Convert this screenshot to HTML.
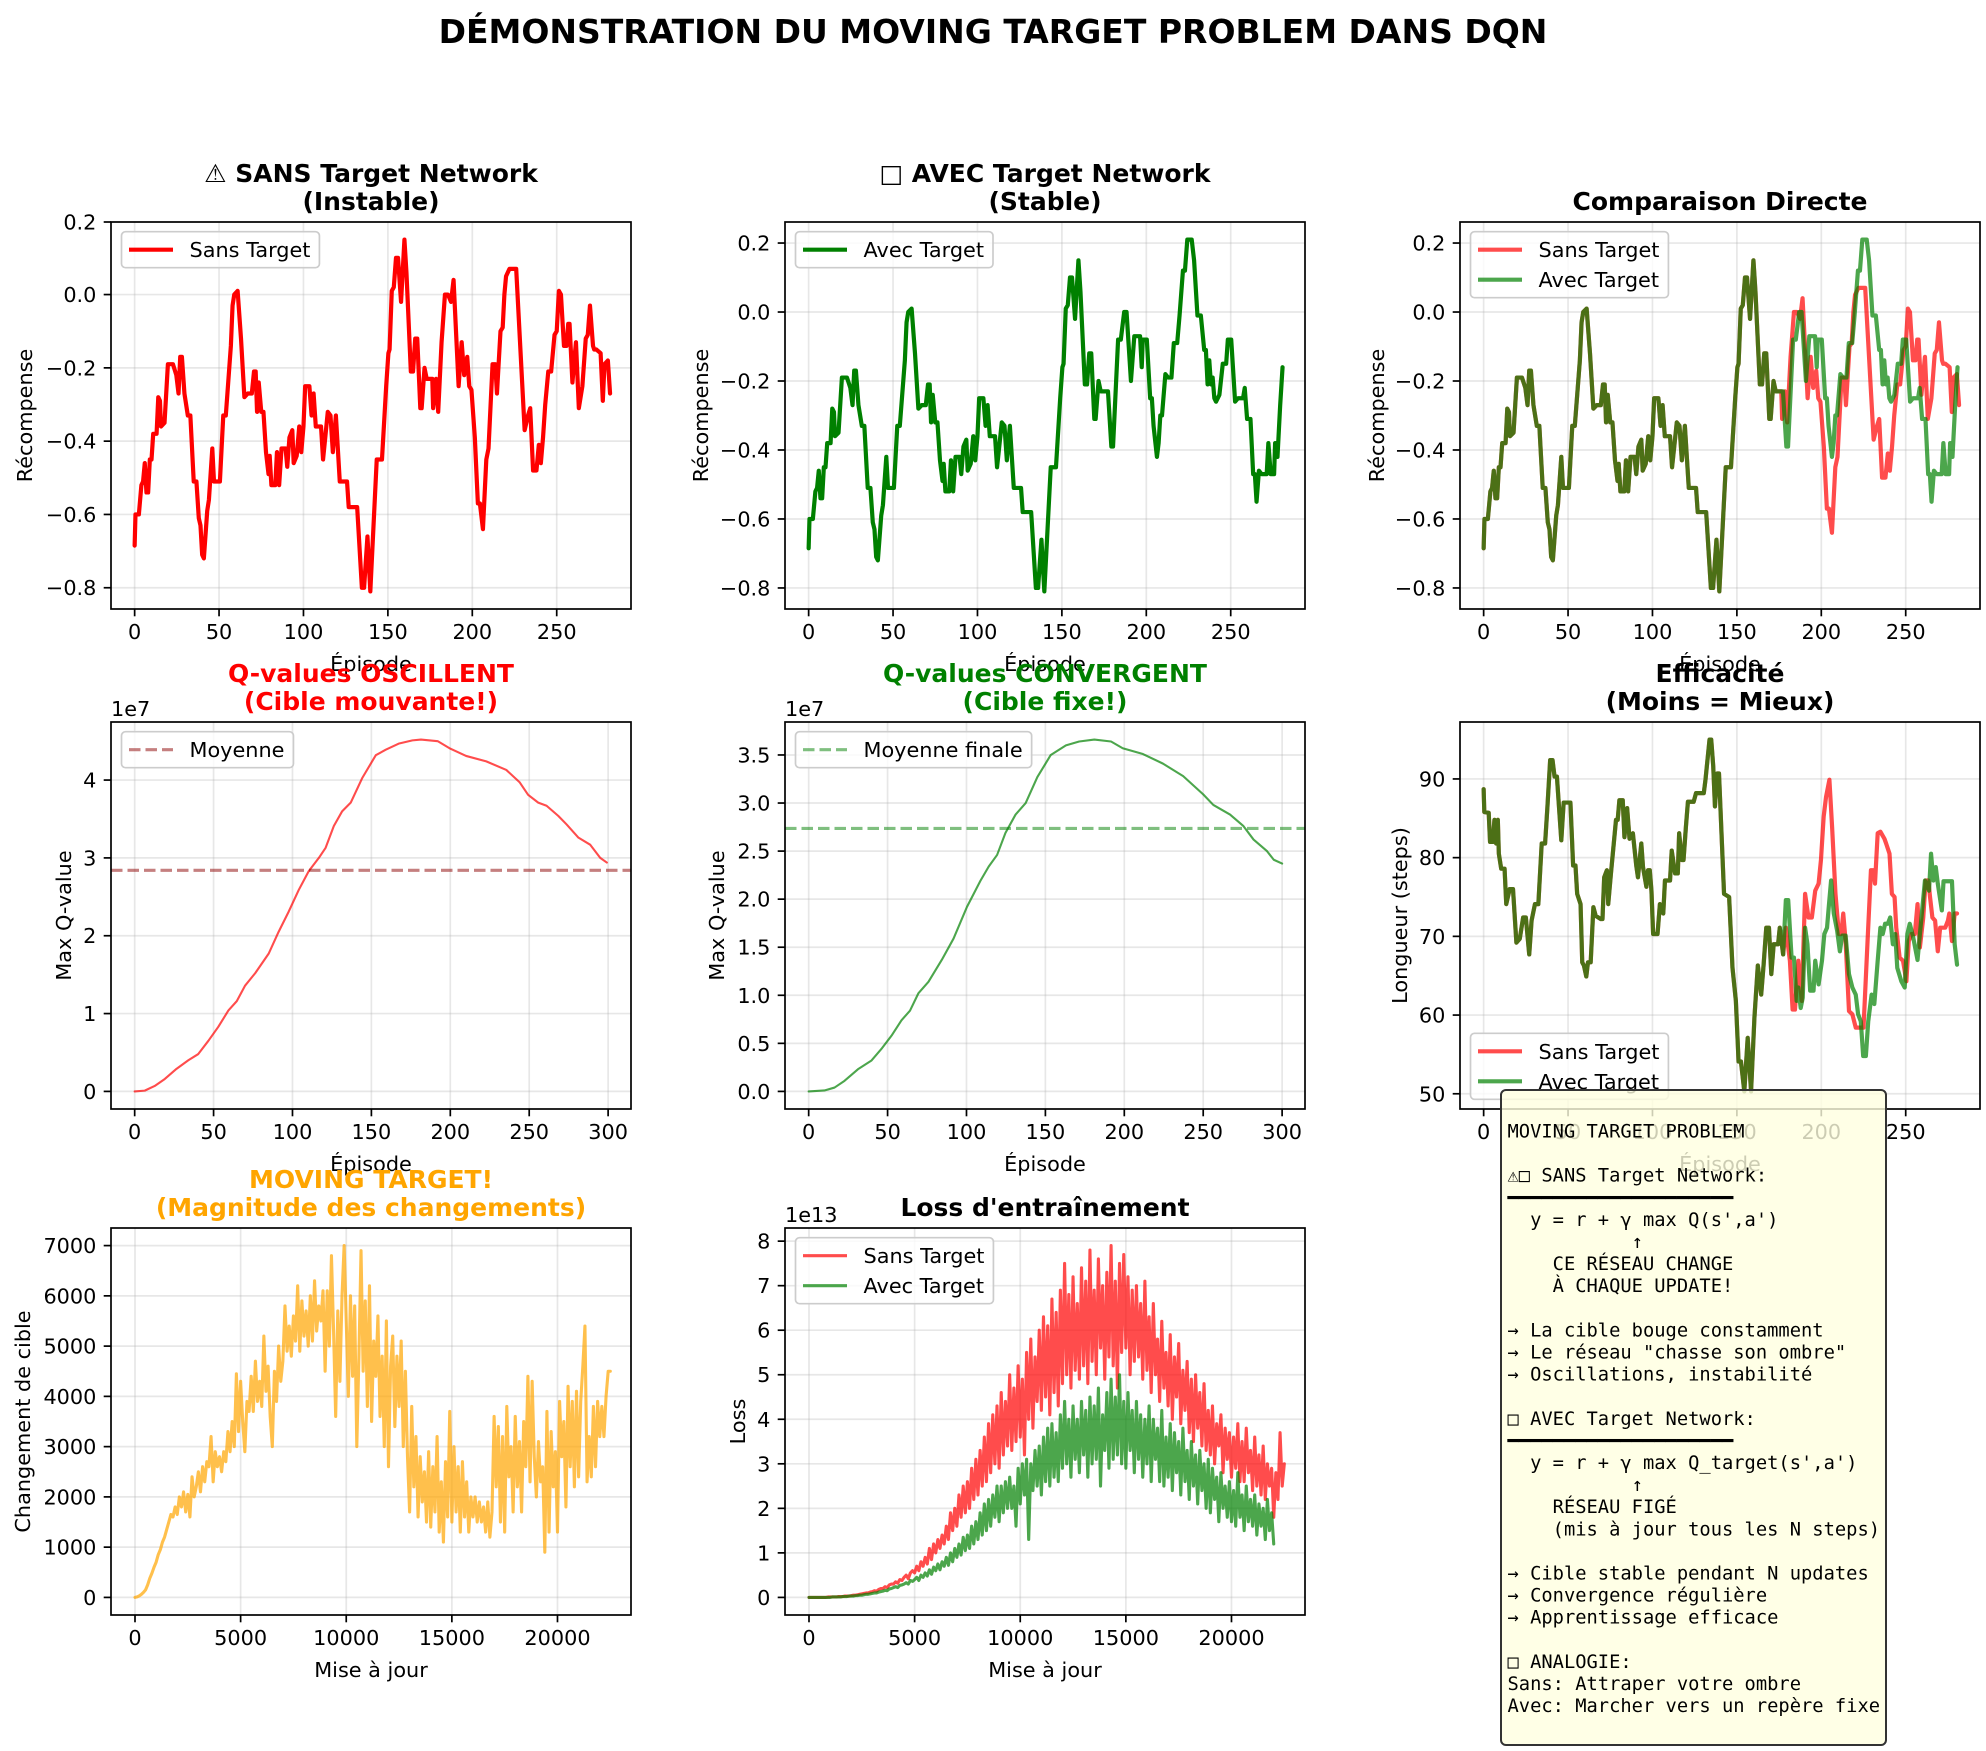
<!DOCTYPE html>
<html><head><meta charset="utf-8"><title>Moving Target Problem DQN</title>
<style>
html,body{margin:0;padding:0;background:#fff;}
svg{display:block;font-family:"DejaVu Sans","Liberation Sans",sans-serif;}
</style></head>
<body>
<svg id="fig" width="1986" height="1751" viewBox="0 0 1986 1751" xmlns="http://www.w3.org/2000/svg">
<rect width="1986" height="1751" fill="#ffffff"/>
<text x="993" y="43" text-anchor="middle" font-size="33" font-weight="bold">DÉMONSTRATION DU MOVING TARGET PROBLEM DANS DQN</text>
</svg>
<script>
// ---------- data ----------
const rewardEpSans = [0,0.5,2.5,4,5,6,7,8,9,10,11,13,14,15,15.6,17.7,19.7,22.7,24.7,26,27,28,29.5,31.5,33,35,36.6,38,39,40,41,43,44,46,47,50.5,52.5,54,57,58,59,61,63,65,67,69.4,70.7,71.7,72.5,73.5,75,76.3,77.8,79.3,80,81,83.3,84.3,85.6,87,89.4,90.4,91.7,93.4,94.2,96,97.5,98.7,100,101,103.5,104.8,106,107.3,110.4,111.6,112.9,114.4,116,117.4,119.2,121.5,125.8,126.8,131.8,134.6,135.9,137.9,139.6,143.4,146.5,149,150.3,151,152.3,153.5,154.8,156,157.8,159.8,161,163.6,164.9,166.2,167.4,169.2,170,171.7,173,176.3,176.8,178.5,179.8,181.8,183.8,185.6,187.4,188.9,191.9,193.7,195.2,197,198.2,199.5,201.5,203.3,204.5,206.3,208.3,209.6,212,213.6,214.6,216.7,218,219,220,222,226,231,233,234.3,236,238,239.4,240.6,241.9,243.2,245,246.7,248.7,250,251.3,252.5,254.3,255.8,256.8,257.6,259.3,260.6,261.4,263.1,265.2,267.2,268.4,269.7,271.5,272.2,273.5,276,277.3,278.3,280.3,281.6];
const rewardSans = [-0.685,-0.60,-0.60,-0.52,-0.51,-0.46,-0.54,-0.54,-0.45,-0.45,-0.38,-0.38,-0.28,-0.29,-0.36,-0.35,-0.19,-0.19,-0.22,-0.27,-0.17,-0.17,-0.27,-0.33,-0.33,-0.51,-0.51,-0.61,-0.63,-0.71,-0.72,-0.59,-0.56,-0.42,-0.51,-0.51,-0.33,-0.33,-0.14,-0.03,0.0,0.01,-0.12,-0.28,-0.27,-0.27,-0.21,-0.21,-0.32,-0.24,-0.32,-0.32,-0.43,-0.49,-0.44,-0.52,-0.52,-0.43,-0.52,-0.42,-0.42,-0.47,-0.39,-0.37,-0.46,-0.44,-0.36,-0.43,-0.36,-0.25,-0.25,-0.33,-0.27,-0.36,-0.36,-0.45,-0.39,-0.32,-0.33,-0.43,-0.33,-0.51,-0.51,-0.58,-0.58,-0.80,-0.80,-0.66,-0.81,-0.45,-0.45,-0.25,-0.16,-0.15,0.01,0.02,0.10,0.10,-0.02,0.15,0.06,-0.21,-0.21,-0.12,-0.12,-0.31,-0.31,-0.20,-0.23,-0.23,-0.31,-0.23,-0.32,-0.13,0.0,0.0,-0.02,0.04,-0.25,-0.13,-0.22,-0.17,-0.25,-0.26,-0.39,-0.57,-0.57,-0.64,-0.45,-0.42,-0.19,-0.19,-0.27,-0.10,-0.09,0.0,0.05,0.07,0.07,-0.37,-0.33,-0.31,-0.48,-0.48,-0.41,-0.46,-0.39,-0.30,-0.21,-0.21,-0.11,-0.10,0.01,0.0,-0.14,-0.14,-0.08,-0.08,-0.24,-0.17,-0.13,-0.31,-0.25,-0.12,-0.11,-0.03,-0.14,-0.15,-0.15,-0.16,-0.29,-0.19,-0.18,-0.27];
const rewardEpAvecTail = [177.3,179.3,180.3,183.3,184.9,186.9,188.3,190.9,192.9,196.3,197.3,197.9,200.3,202.3,203.3,204.3,206.3,207.3,208.3,209.3,211.3,212.9,214.9,216.3,218.3,219.7,221.7,222.9,224.3,226.9,228.3,230.3,232.3,234.3,235.3,236.3,237.3,238.3,239.3,240.3,241.3,243.3,245.3,247.3,248.3,250.3,252.6,254.3,257.3,258.3,259.7,261.7,263.3,264.3,265.3,266.7,268.3,271.3,272.3,273.7,275.7,276.3,277.7,279.3,280.7];
const rewardAvecTail = [-0.23,-0.39,-0.39,-0.08,-0.08,0.0,0.0,-0.2,-0.07,-0.07,-0.16,-0.08,-0.08,-0.25,-0.25,-0.33,-0.42,-0.38,-0.30,-0.30,-0.18,-0.19,-0.19,-0.09,-0.09,-0.01,0.12,0.12,0.21,0.21,0.15,-0.01,-0.01,-0.11,-0.11,-0.21,-0.14,-0.21,-0.19,-0.25,-0.26,-0.24,-0.15,-0.15,-0.08,-0.08,-0.26,-0.25,-0.25,-0.22,-0.31,-0.31,-0.47,-0.47,-0.55,-0.46,-0.47,-0.47,-0.38,-0.47,-0.47,-0.38,-0.42,-0.27,-0.16];
const rewardEpAvec = rewardEpSans.slice(0,110).concat(rewardEpAvecTail);
const rewardAvec = rewardSans.slice(0,110).concat(rewardAvecTail);

const qEpSans = [0,6.4,12.7,19.1,26.5,34,40.3,46.7,53,59.4,64.7,70,76.4,84.9,91.2,97.6,104,110.3,116.7,121,126.2,131.5,136.9,144.3,152.8,159.1,167.6,176,181.4,192,199.4,210,222.8,235.5,244,249.3,255.7,261,268.4,273.7,281.2,288.6,295,299.2];
const qSans = [0,0.01,0.07,0.16,0.29,0.40,0.48,0.65,0.83,1.04,1.16,1.36,1.52,1.77,2.05,2.31,2.59,2.83,3.0,3.13,3.41,3.6,3.71,4.03,4.32,4.39,4.47,4.51,4.52,4.5,4.41,4.31,4.24,4.13,3.97,3.81,3.71,3.67,3.54,3.43,3.26,3.17,3.0,2.94];
const qMeanSans = 2.84;
const qEpAvec = [0,10,16.4,22.7,31.2,39.7,46,52.5,58.8,64.2,69.5,75.9,84.4,91.8,100.3,108.8,114.1,119.4,124.7,131.1,137.5,144.9,153.4,163,171.4,181,191.6,199,211.8,224.5,237.3,250,256.4,267,275.5,281.9,290.4,294.7,300];
const qAvec = [0,0.01,0.04,0.11,0.23,0.32,0.44,0.58,0.74,0.84,1.02,1.14,1.37,1.59,1.92,2.19,2.34,2.46,2.69,2.88,3.0,3.27,3.5,3.6,3.64,3.66,3.64,3.57,3.51,3.41,3.28,3.09,2.98,2.88,2.76,2.62,2.5,2.41,2.37];
const qMeanAvec = 2.736;

const effEpCommon = [0,0.4,3,3.8,5.4,6.4,7.4,8.4,9,10.4,12.4,13.4,15.4,17.4,19.4,21.4,23.4,25,27,28.4,30.4,32.4,34.4,36.4,37.8,39.4,40.8,42,43.4,46,47.4,51.4,53,54.4,55.4,57.4,58.4,59.4,60.8,61.8,63.4,65,66.4,69.4,70.4,71.4,73,73.8,75.4,78.4,79.4,80.4,82.4,83.4,85,86.4,88.4,90.4,91.4,93.4,94.4,96.4,97.4,98.4,99.4,100.4,103,104.4,106.4,107.4,110.4,111.4,113.4,115,115.8,117.4,118.4,119.8,121,124.4,125.8,130.4,131.4,133.8,134.8,136,137,138.4,139.4,142.4,145.4,147.4,149.4,151,152.4,154.4,156.4,158.4,160.4,162.4,164.4,165.8,167.4,169,170.4,171.8,174.4,175.4,177.4];
const effCommon = [88.7,85.8,85.7,82,82,84.8,81.8,84.8,80.5,78.6,78.6,74.1,76,76,69.2,69.7,72.4,72.4,67.7,72,74.1,74.1,81.8,81.8,86.5,92.4,92.4,90.3,90.3,82.2,87,87,79,79,75.4,74.1,66.7,66.3,64.9,66.7,66.7,73.7,72.6,72.2,72.2,77.5,78.4,74.1,78,84.8,84.8,87.3,87.3,82.6,86.3,82.4,83.1,79,77.5,81.8,78.8,76.3,78.4,78.4,75.8,70.3,70.3,74.1,72.9,77.1,77.1,80.9,78,78,83.1,79.7,79.7,83.9,87.1,87.1,88.2,88.2,89.9,95,95,91.6,86.5,90.7,90.7,75.4,75,66,61.8,54.1,54.1,50.3,57.1,50.3,59.7,66.3,62.6,66.3,71.1,71.1,65.2,69,69,71.1,67.7];
const effEpSansTail = [179,181.4,183,184.4,186.4,188.4,190.4,192.4,194.4,196.4,198.4,199.8,201.4,202.8,204.8,206.4,208.4,210.4,211.8,213,214.4,216.4,218.4,220.4,222.4,225,227.4,229.4,230.8,231.8,233.4,235,237.4,238.4,240.4,241.8,243.4,244.4,246.4,248.4,250.4,251.8,253.4,255.4,257,258.4,260.4,261.8,263.4,264.4,265.8,267.4,269,270.4,273.4,275,275.8,277.4,279,280.4];
const effSansTail = [71.1,66.9,60.7,60.7,66.9,61.8,75.4,72.4,72.4,75.8,76.7,79.7,85.2,87.7,89.9,83.9,75.4,70.3,70.3,72.9,69.4,60.5,60.1,58.4,58.4,58.4,69.4,78.4,78.4,76.7,83.1,83.3,82.4,81.8,80.5,75.4,75,71.1,67.3,66.9,64.3,69.4,70.3,70.3,74.1,68.6,72.4,77.1,77.1,75,72.4,72,68.1,71.1,71.1,72,72.9,69.4,72.9,72.9];
const effEpAvecTail = [179,180.4,182.4,183.8,185.4,186.4,187.8,189,190.4,191.8,193.4,195.4,196.4,198.4,200.4,201.8,203.4,204.4,205.8,207.4,209.4,211,212.4,214.4,216.4,218.4,220.4,221.8,223.4,224.8,226.4,227.8,229.8,231.4,233.4,235,236.4,237.8,239.4,240.8,242.4,243.8,245,247.4,249.4,251,252.4,254.4,257,258.4,261.4,263.8,265,266.4,267.8,269,271.4,272.4,275.4,277.4,279,280.4];
const effAvecTail = [74.6,74.6,67.3,67.3,61.8,63.5,60.9,62.2,71.1,69,63.1,63.1,66.9,63.9,66.9,70.3,71.1,73.7,77.1,72.9,70.7,68.1,70.1,70.1,65.2,63.5,62.6,60.1,59.2,54.8,54.8,59.2,62.6,61.4,66.9,71.1,70.3,71.6,71.6,72.4,69,70.3,66,64.3,63.5,70.3,71.6,69.9,67,70.3,77.1,75.8,80.5,77.1,78.8,76.7,73.3,77,77,77,69,66.4];
const effEpSans = effEpCommon.concat(effEpSansTail);
const effSans = effCommon.concat(effSansTail);
const effEpAvec = effEpCommon.concat(effEpAvecTail);
const effAvec = effCommon.concat(effAvecTail);

const updateStep = 100;
const targetChange = [0,10,30,60,100, 150,250,380,480,600, 700,850,950,1100,1200, 1350,1500,1650,1600,1800, 1650,2000,1800,2100,1700, 2050,1600,2400,2000,2200, 2500,2100,2600,2300,2700, 2600,3200,2300,2900,2600, 2800,2500,2900,2700,3300, 2900,3500,3000,4450,3300, 4300,3500,2900,3900,3700, 4400,3700,4700,3900,4300, 3800,5200,4100,4600,3600, 3000,4500,3900,5000,4300, 4700,5800,4900,5400,4800, 5600,5100,6200,4900,5900, 5200,5700,5000,6000,5100, 6300,5300,5800,5500,6100, 4500,6100,5000,6800,5300, 3600,5700,4300,6000,7000, 5500,4000,6000,4400,5800, 3000,4800,6900,4500,5900, 3800,6200,3500,5100,4400, 5600,3600,4800,3000,5500, 2600,4600,5200,3400,4800, 3800,5100,3000,4500,2800, 1700,3800,2200,3200,1600, 2800,1900,2500,1500,2900, 1400,2600,1700,3200,1300, 2300,1100,2700,1600,3700, 1500,3000,1700,2600,1300, 2700,1600,2300,1300,2000, 1600,2000,1500,1900,1500, 1800,1300,1900,1200,1700, 3600,2200,3400,1500,3200, 1300,3800,2400,3000,1700, 3600,2200,3100,1700,3500, 2600,4400,2300,4300,2800, 2000,3100,2300,2600,900, 3700,1300,3300,2200,2900, 1300,3900,2800,3500,1800, 4200,2600,3900,2200,4100, 2400,3900,4600,5400,2300, 3200,2400,3800,2600,3900, 3200,3800,3200,4000,4500, 4500];
const lossSans = [0,0,0,0,0, 0,0,0,0,0.01, .01,.01,.01,.01,.02, .02,.02,.03,.03,.03, .04,.05,.05,.06,.07, .08,.09,.1,.1,.12, .13,.15,.14,.18,.2, .2,.24,.22,.28,.3, .3,.35,.32,.4,.38, .45,.5,.42,.55,.6, .55,.7,.6,.8,.7, .9,.75,1.1,.85,1.2, 1.0,1.3,1.1,1.4,1.2, 1.6,1.3,1.9,1.5,2.0, 1.6,2.3,1.8,2.5,1.9, 2.6,2.0,2.9,2.2,3.1, 2.3,3.3,2.5,3.6,2.6, 3.9,2.8,4.1,3.0,4.3, 2.9,4.6,3.2,4.4,3.4, 5.0,3.3,4.7,3.5,5.2, 3.6,4.9,3.2,5.5,4.0, 5.8,3.8,5.4,4.4,6.0, 4.2,6.3,4.5,6.1,4.1, 6.7,4.6,6.4,4.3,6.9, 4.8,7.5,5.0,6.8,4.7, 7.2,5.1,6.6,4.9,7.4, 5.2,7.1,4.8,7.8,5.3, 6.9,5.0,7.6,5.6,7.0, 4.9,7.3,5.4,7.9,5.2, 7.1,4.7,7.5,5.5,7.7, 5.6,7.2,5.0,6.9,5.3, 7.0,5.4,6.6,4.9,7.1, 5.1,6.3,4.6,6.6,5.0, 5.8,4.4,6.2,4.7,5.5, 4.3,5.9,4.0,5.4,4.5, 5.7,3.9,5.1,4.2,5.3, 3.7,4.9,3.5,5.0,3.8, 4.6,3.4,4.8,3.3,4.2, 3.2,4.3,3.0,3.9,3.4, 4.1,2.8,3.8,3.1,3.7, 2.7,3.6,2.9,3.9,2.6, 3.5,2.6,3.8,2.8,3.3, 2.4,3.6,2.5,3.2,2.3, 3.4,2.2,3.0,2.5,2.9, 1.8,2.8,2.2,3.7,2.5, 3.0];
const lossAvec = [0,0,0,0,0, 0,0,0,0,0, 0,.01,.01,.01,.01, .01,.02,.02,.02,.03, .03,.03,.04,.04,.05, .05,.06,.07,.07,.08, .09,.1,.1,.12,.13, .14,.16,.15,.19,.2, .22,.24,.22,.27,.28, .3,.33,.3,.38,.36, .4,.45,.38,.5,.45, .55,.48,.62,.52,.68, .6,.75,.62,.8,.7, .9,.72,1.0,.8,1.1, .9,1.2,.95,1.35,1.05, 1.4,1.1,1.6,1.2,1.7, 1.3,1.9,1.4,2.1,1.5, 2.2,1.6,2.3,1.8,2.5, 1.7,2.5,1.9,2.6,2.0, 2.7,2.0,2.5,1.6,2.9, 2.1,3.0,2.3,3.1,1.3, 3.0,2.4,3.3,2.5,3.4, 2.3,3.6,2.6,3.8,2.5, 3.9,2.7,3.7,2.6,4.1, 2.9,4.4,3.0,4.0,2.7, 4.3,3.1,4.0,2.8,4.4, 3.2,4.2,2.7,4.5,3.0, 4.3,3.1,4.7,2.5,4.1, 3.3,4.6,2.9,4.9,3.1, 4.5,3.2,5.0,3.0,4.4, 2.9,4.6,3.3,4.2,2.8, 4.4,3.1,4.1,2.7,4.0, 3.0,4.3,2.6,4.0,3.1, 3.8,2.6,4.2,2.5,3.6, 2.7,3.9,2.4,3.7,2.8, 3.5,2.3,3.8,2.6,3.3, 2.2,3.5,2.5,3.2,2.1, 3.3,2.4,3.0,2.0,3.1, 1.9,2.9,2.2,2.7,1.7, 2.8,2.0,2.5,1.8,2.6, 1.7,2.4,1.6,2.8,1.8, 2.3,1.5,2.5,1.7,2.2, 1.6,2.3,1.4,2.1,1.6, 2.0,1.3,2.2,1.5,1.9, 1.2];

const rewardTicks = [-0.8,-0.6,-0.4,-0.2,0.0,0.2];
const rewardTickLabels = ["\u22120.8","\u22120.6","\u22120.4","\u22120.2","0.0","0.2"];
const episodeTicks = [0,50,100,150,200,250];
const episodeTicks300 = [0,50,100,150,200,250,300];
const qTicksSans = [0,1,2,3,4];
const qTicksSansLabels = ["0","1","2","3","4"];
const qTicksAvec = [0,0.5,1,1.5,2,2.5,3,3.5];
const qTicksAvecLabels = ["0.0","0.5","1.0","1.5","2.0","2.5","3.0","3.5"];
const effTicks = [50,60,70,80,90];
const changeTicks = [0,1000,2000,3000,4000,5000,6000,7000];
const lossTicks = [0,1,2,3,4,5,6,7,8];
const updateTicks = [0,5000,10000,15000,20000];

// ---------- helpers ----------
const NS = 'http://www.w3.org/2000/svg';
const svg = document.getElementById('fig');
function mk(tag, parent){ const e = document.createElementNS(NS, tag); (parent||svg).appendChild(e); return e; }
function autolim(arrs){ let mn=Infinity,mx=-Infinity; arrs.forEach(a=>a.forEach(v=>{if(v<mn)mn=v;if(v>mx)mx=v;})); const p=(mx-mn)*0.05; return [mn-p,mx+p]; }
function txt(parent, x, y, s, size, anchor, extra){
  const t = mk('text', parent);
  t.setAttribute('x', x); t.setAttribute('y', y);
  t.setAttribute('font-size', size); t.setAttribute('text-anchor', anchor||'start');
  if(extra){ for(const k in extra) t.setAttribute(k, extra[k]); }
  t.textContent = s; return t;
}
let clipId = 0;
function makeAxes(name, x0, y0, w, h, xlim, ylim, xt, xtl, yt, ytl){
  const g = mk('g');
  
  
  const sx = v => x0 + (v - xlim[0]) / (xlim[1] - xlim[0]) * w;
  const sy = v => y0 + h - (v - ylim[0]) / (ylim[1] - ylim[0]) * h;
  const tol = (ylim[1]-ylim[0])*0.01;
  const grid = mk('g', g);
  
  
  const ticks = mk('g', g);
  
  
  xt.forEach((v,i)=>{
    const X = sx(v);
    const gl = mk('line', grid);
    gl.setAttribute('x1',X); gl.setAttribute('x2',X); gl.setAttribute('y1',y0); gl.setAttribute('y2',y0+h);
    gl.setAttribute('stroke','#b0b0b0'); gl.setAttribute('stroke-opacity','0.3'); gl.setAttribute('stroke-width','1.7');
    const tk = mk('line', ticks);
    tk.setAttribute('x1',X); tk.setAttribute('x2',X); tk.setAttribute('y1',y0+h); tk.setAttribute('y2',y0+h+7.3);
    tk.setAttribute('stroke','#000'); tk.setAttribute('stroke-width','1.7');
    const lb = txt(ticks, X, y0+h+30, xtl[i], 20.8, 'middle');
    
    
  });
  yt.forEach((v,i)=>{
    if(v < ylim[0]-tol || v > ylim[1]+tol) return;
    const Y = Math.max(y0, Math.min(y0+h, sy(v)));
    const gl = mk('line', grid);
    gl.setAttribute('x1',x0); gl.setAttribute('x2',x0+w); gl.setAttribute('y1',Y); gl.setAttribute('y2',Y);
    gl.setAttribute('stroke','#b0b0b0'); gl.setAttribute('stroke-opacity','0.3'); gl.setAttribute('stroke-width','1.7');
    const tk = mk('line', ticks);
    tk.setAttribute('x1',x0-7.3); tk.setAttribute('x2',x0); tk.setAttribute('y1',Y); tk.setAttribute('y2',Y);
    tk.setAttribute('stroke','#000'); tk.setAttribute('stroke-width','1.7');
    const lb = txt(ticks, x0-14.6, Y+7.5, ytl[i], 20.8, 'end');
    
    
  });
  clipId++;
  const cp = mk('clipPath', g); cp.setAttribute('id','c'+clipId);
  const cr = mk('rect', cp); cr.setAttribute('x',x0); cr.setAttribute('y',y0); cr.setAttribute('width',w); cr.setAttribute('height',h);
  const plot = mk('g', g); plot.setAttribute('clip-path','url(#c'+clipId+')');
  
  
  const ax = {g, plot, sx, sy, x0, y0, w, h};
  ax.frame = function(){
    const f = mk('rect', g);
    f.setAttribute('x',x0); f.setAttribute('y',y0); f.setAttribute('width',w); f.setAttribute('height',h);
    f.setAttribute('fill','none'); f.setAttribute('stroke','#000'); f.setAttribute('stroke-width','1.7');
    
    
  };
  return ax;
}
function line(ax, xs, ys, color, lw, opacity, name, dash){
  const n = Math.min(xs.length, ys.length);
  let d = '';
  for(let i=0;i<n;i++){ d += (i?'L':'M') + ax.sx(xs[i]).toFixed(2) + ',' + ax.sy(ys[i]).toFixed(2); }
  const p = mk('path', ax.plot);
  p.setAttribute('d', d); p.setAttribute('fill','none'); p.setAttribute('stroke',color);
  p.setAttribute('stroke-width',lw); p.setAttribute('stroke-opacity',opacity);
  p.setAttribute('stroke-linejoin','round'); p.setAttribute('stroke-linecap','round');
  if(dash) p.setAttribute('stroke-dasharray', dash);
  
  
  return p;
}
function hline(ax, v, color, lw, opacity, name){
  const p = mk('line', ax.plot);
  const Y = ax.sy(v);
  p.setAttribute('x1', ax.x0); p.setAttribute('x2', ax.x0+ax.w); p.setAttribute('y1', Y); p.setAttribute('y2', Y);
  p.setAttribute('stroke', color); p.setAttribute('stroke-width', lw); p.setAttribute('stroke-opacity', opacity);
  p.setAttribute('stroke-dasharray', (3.7*lw).toFixed(1)+','+(1.6*lw).toFixed(1));
  
  
}
function legend(ax, entries, loc){
  const g = mk('g', ax.g);
  
  
  const H = 36 + 30*(entries.length-1);
  const top = loc === 'll' ? ax.y0 + ax.h - 9.7 - H : ax.y0 + 9.7;
  const box = mk('rect', g);
  let maxW = 0;
  entries.forEach((e,i)=>{
    const cy = top + 18 + 30*i;
    const l = mk('line', g);
    l.setAttribute('x1', ax.x0+18); l.setAttribute('x2', ax.x0+62); l.setAttribute('y1', cy); l.setAttribute('y2', cy);
    l.setAttribute('stroke', e.color); l.setAttribute('stroke-width', e.lw); l.setAttribute('stroke-opacity', e.op);
    if(e.dash) l.setAttribute('stroke-dasharray', e.dash);
    
    
    const t = txt(g, ax.x0+78.5, cy+7.5, e.label, 20.8, 'start');
    
    
    let tw = 0; try { tw = t.getComputedTextLength(); } catch(err) { tw = e.label.length*12; }
    if(!tw) tw = e.label.length*12;
    maxW = Math.max(maxW, tw);
  });
  box.setAttribute('x', ax.x0+10.5); box.setAttribute('y', top);
  box.setAttribute('width', 68 + maxW + 9); box.setAttribute('height', H);
  box.setAttribute('rx', 4); box.setAttribute('fill', '#ffffff'); box.setAttribute('fill-opacity', '0.8');
  box.setAttribute('stroke', '#cccccc'); box.setAttribute('stroke-width', '1.7');
}
function title(ax, lines, color){
  const cx = ax.x0 + ax.w/2;
  lines.forEach((s,i)=>{
    const y = ax.y0 - 12 - 28*(lines.length-1-i);
    const t = txt(ax.g, cx, y, s, 25, 'middle', {'font-weight':'bold', 'fill': color||'#000'});
    
    
  });
}
function xlabel(ax, s){
  const t = txt(ax.g, ax.x0+ax.w/2, ax.y0+ax.h+62, s, 20.8, 'middle');
  
  
}
function ylabel(ax, s, off){
  const x = ax.x0 - off, y = ax.y0 + ax.h/2;
  const t = txt(ax.g, x, y, s, 20.8, 'middle', {'transform':'rotate(-90 '+x+' '+y+')', 'dominant-baseline':'central'});
  
  
}
function offsetText(ax, s){
  const t = txt(ax.g, ax.x0, ax.y0 - 6, s, 20.8, 'start');
  
  
}
const epLabels = a => a.map(String);

// ---------- layout ----------
const COLX = [111, 785, 1460], W = 520, ROWY = [222, 722, 1228], H = 387;
const epLim = [-14, 294], epLim300 = [-15, 314.5];

// Row 1
const a1 = makeAxes('chart-sans-target', COLX[0], ROWY[0], W, H, epLim, autolim([rewardSans]), episodeTicks, epLabels(episodeTicks), rewardTicks, rewardTickLabels);
line(a1, rewardEpSans, rewardSans, '#ff0000', 4.2, 1, 'line-sans-target');
a1.frame(); legend(a1, [{label:'Sans Target', color:'#ff0000', lw:4.2, op:1}], 'ul');
title(a1, ['\u26A0 SANS Target Network', '(Instable)']); xlabel(a1, 'Épisode'); ylabel(a1, 'Récompense', 86);

const a2 = makeAxes('chart-avec-target', COLX[1], ROWY[0], W, H, epLim, autolim([rewardAvec]), episodeTicks, epLabels(episodeTicks), rewardTicks, rewardTickLabels);
line(a2, rewardEpAvec, rewardAvec, '#008000', 4.2, 1, 'line-avec-target');
a2.frame(); legend(a2, [{label:'Avec Target', color:'#008000', lw:4.2, op:1}], 'ul');
title(a2, ['\u25A1 AVEC Target Network', '(Stable)']); xlabel(a2, 'Épisode'); ylabel(a2, 'Récompense', 84);

const a3 = makeAxes('chart-comparison', COLX[2], ROWY[0], W, H, epLim, autolim([rewardSans, rewardAvec]), episodeTicks, epLabels(episodeTicks), rewardTicks, rewardTickLabels);
line(a3, rewardEpSans, rewardSans, '#ff0000', 4.2, 0.7, 'line-compare-sans');
line(a3, rewardEpAvec, rewardAvec, '#008000', 4.2, 0.7, 'line-compare-avec');
a3.frame(); legend(a3, [{label:'Sans Target', color:'#ff0000', lw:4.2, op:0.7},{label:'Avec Target', color:'#008000', lw:4.2, op:0.7}], 'ul');
title(a3, ['Comparaison Directe']); xlabel(a3, 'Épisode'); ylabel(a3, 'Récompense', 83);

// Row 2
const b1 = makeAxes('chart-q-oscillent', COLX[0], ROWY[1], W, H, epLim300, autolim([qSans]), episodeTicks300, epLabels(episodeTicks300), qTicksSans, qTicksSansLabels);
line(b1, qEpSans, qSans, '#ff0000', 2.1, 0.7, 'line-q-sans');
hline(b1, qMeanSans, '#8b0000', 3.1, 0.5, 'mean-line-sans');
b1.frame(); legend(b1, [{label:'Moyenne', color:'#8b0000', lw:3.1, op:0.5, dash:'11.5,5'}], 'ul');
title(b1, ['Q-values OSCILLENT', '(Cible mouvante!)'], '#ff0000'); xlabel(b1, 'Épisode'); ylabel(b1, 'Max Q-value', 47); offsetText(b1, '1e7');

const b2 = makeAxes('chart-q-convergent', COLX[1], ROWY[1], W, H, epLim300, autolim([qAvec]), episodeTicks300, epLabels(episodeTicks300), qTicksAvec, qTicksAvecLabels);
line(b2, qEpAvec, qAvec, '#008000', 2.1, 0.7, 'line-q-avec');
hline(b2, qMeanAvec, '#008000', 3.1, 0.5, 'mean-line-avec');
b2.frame(); legend(b2, [{label:'Moyenne finale', color:'#008000', lw:3.1, op:0.5, dash:'11.5,5'}], 'ul');
title(b2, ['Q-values CONVERGENT', '(Cible fixe!)'], '#008000'); xlabel(b2, 'Épisode'); ylabel(b2, 'Max Q-value', 68); offsetText(b2, '1e7');

const b3 = makeAxes('chart-efficacite', COLX[2], ROWY[1], W, H, epLim, autolim([effSans, effAvec]), episodeTicks, epLabels(episodeTicks), effTicks, epLabels(effTicks));
line(b3, effEpSans, effSans, '#ff0000', 4.2, 0.7, 'line-eff-sans');
line(b3, effEpAvec, effAvec, '#008000', 4.2, 0.7, 'line-eff-avec');
b3.frame(); legend(b3, [{label:'Sans Target', color:'#ff0000', lw:4.2, op:0.7},{label:'Avec Target', color:'#008000', lw:4.2, op:0.7}], 'll');
title(b3, ['Efficacité', '(Moins = Mieux)']); xlabel(b3, 'Épisode'); ylabel(b3, 'Longueur (steps)', 60);

// Row 3
const changeX = targetChange.map((v,i)=>i*updateStep);
const lossSansX = lossSans.map((v,i)=>i*updateStep);
const lossAvecX = lossAvec.map((v,i)=>i*updateStep);
const updLim = [-1136, 23480];
const c1 = makeAxes('chart-moving-target', COLX[0], ROWY[2], W, H, updLim, autolim([targetChange]), updateTicks, epLabels(updateTicks), changeTicks, epLabels(changeTicks));
line(c1, changeX, targetChange, '#ffa500', 3.1, 0.7, 'line-target-change');
c1.frame();
title(c1, ['MOVING TARGET!', '(Magnitude des changements)'], '#ffa500'); xlabel(c1, 'Mise à jour'); ylabel(c1, 'Changement de cible', 88);

const c2 = makeAxes('chart-loss', COLX[1], ROWY[2], W, H, updLim, autolim([lossSans, lossAvec]), updateTicks, epLabels(updateTicks), lossTicks, epLabels(lossTicks));
line(c2, lossSansX, lossSans, '#ff0000', 3.1, 0.7, 'line-loss-sans');
line(c2, lossAvecX, lossAvec, '#008000', 3.1, 0.7, 'line-loss-avec');
c2.frame(); legend(c2, [{label:'Sans Target', color:'#ff0000', lw:3.1, op:0.7},{label:'Avec Target', color:'#008000', lw:3.1, op:0.7}], 'ul');
title(c2, ["Loss d'entraînement"]); xlabel(c2, 'Mise à jour'); ylabel(c2, 'Loss', 47); offsetText(c2, '1e13');

// ---------- explanation box ----------
const boxLines = [
 'MOVING TARGET PROBLEM','',
 '\u26A0\u25A1 SANS Target Network:',
 '\u2501\u2501\u2501\u2501\u2501\u2501\u2501\u2501\u2501\u2501\u2501\u2501\u2501\u2501\u2501\u2501\u2501\u2501\u2501\u2501',
 "  y = r + \u03B3 max Q(s',a')",
 '           \u2191',
 '    CE RÉSEAU CHANGE',
 '    À CHAQUE UPDATE!','',
 '\u2192 La cible bouge constamment',
 '\u2192 Le réseau "chasse son ombre"',
 '\u2192 Oscillations, instabilité','',
 '\u25A1 AVEC Target Network:',
 '\u2501\u2501\u2501\u2501\u2501\u2501\u2501\u2501\u2501\u2501\u2501\u2501\u2501\u2501\u2501\u2501\u2501\u2501\u2501\u2501',
 "  y = r + \u03B3 max Q_target(s',a')",
 '           \u2191',
 '    RÉSEAU FIGÉ',
 '    (mis à jour tous les N steps)','',
 '\u2192 Cible stable pendant N updates',
 '\u2192 Convergence régulière',
 '\u2192 Apprentissage efficace','',
 '\u25A1 ANALOGIE:',
 'Sans: Attraper votre ombre',
 'Avec: Marcher vers un repère fixe'
];
const tb = mk('g');


const tbr = mk('rect', tb);
tbr.setAttribute('x', 1501); tbr.setAttribute('y', 1090); tbr.setAttribute('width', 385); tbr.setAttribute('height', 655);
tbr.setAttribute('rx', 5); tbr.setAttribute('fill', '#ffffe0'); tbr.setAttribute('fill-opacity', '0.8');
tbr.setAttribute('stroke', '#333333'); tbr.setAttribute('stroke-width', '2');
boxLines.forEach((s,i)=>{
  if(!s) return;
  const t = txt(tb, 1507.5, 1137.5 + i*22.1, s, 18.75, 'start', {'font-family':'"DejaVu Sans Mono","Liberation Mono",monospace', 'xml:space':'preserve'});
  t.style.whiteSpace = 'pre';
  
  
});
</script>
</body></html>
